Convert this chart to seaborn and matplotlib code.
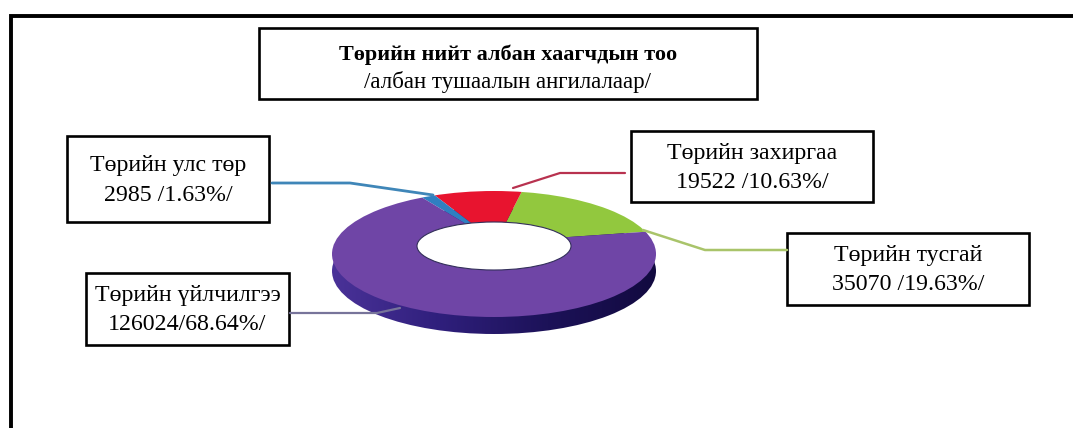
import matplotlib
matplotlib.use("Agg")
import matplotlib.pyplot as plt
from matplotlib.colors import LinearSegmentedColormap
from matplotlib.patches import Ellipse, Rectangle
from matplotlib.path import Path
from matplotlib.transforms import Affine2D
import numpy as np
import seaborn as sns

categories = ["Төрийн тусгай", "Төрийн захиргаа", "Төрийн улс төр", "Төрийн үйлчилгээ"]
values = [35070, 19522, 2985, 126024]
value_labels = ["35070 /19.63%/", "19522 /10.63%/", "2985 /1.63%/", "126024/68.64%/"]
colors = ["#92c83e", "#e8142f", "#2f7fc1", "#6f45a6"]
side_colors = ["#4a3298", "#2f1f7c", "#1c1258", "#120a40"]
title_main = "Төрийн нийт албан хаагчдын тоо"
title_sub = "/албан тушаалын ангилалаар/"

W, H = 1073, 428
sns.set_theme(style="white")
plt.rcParams["font.family"] = ["Liberation Serif", "DejaVu Serif"]
fig = plt.figure(figsize=(W / 100, H / 100), dpi=100, facecolor="white")

# Donut axes: one unit = 162 px across and 63 px down, origin at the slice apex
cx, cy, ux, uy = 496, 242, 162, 63
ex, ey = -2 / ux, -(254 - cy) / uy
depth = 17 / uy
pie = fig.add_axes([0, 0, 1, 1], zorder=1)

wedges, _ = pie.pie(values, colors=colors, startangle=10, counterclock=True, radius=2.2,
                    wedgeprops={"linewidth": 0, "edgecolor": "none"})
top_clip = Path.unit_circle().transformed(Affine2D().translate(ex, ey))
for w in wedges:
    w.set_clip_on(True)
    w.set_clip_path(top_clip, pie.transData)

# Side wall of the disc: a left-to-right shade under the top face
side_cmap = LinearSegmentedColormap.from_list("side", side_colors)
img = pie.imshow(np.linspace(0, 1, 256).reshape(1, -1), cmap=side_cmap, aspect="auto", zorder=0.5,
                 extent=(ex - 1, ex + 1, ey - depth - 1, ey + 1))
img.set_clip_path(Path.unit_circle().transformed(Affine2D().translate(ex, ey - depth)), pie.transData)

pie.add_patch(Ellipse((ex, -(246 - cy) / uy), 2 * 77 / ux, 2 * 24 / uy,
                      fc="white", ec="#33305a", lw=0.8, zorder=5))
pie.set_aspect("auto")
pie.set_xlim(-cx / ux, (W - cx) / ux)
pie.set_ylim(-(H - cy) / uy, cy / uy)
pie.axis("off")

# Annotation layer in pixels
ax = fig.add_axes([0, 0, 1, 1], zorder=2)
ax.set_xlim(0, W)
ax.set_ylim(H, 0)
ax.axis("off")
ax.patch.set_alpha(0)

ax.plot([10.5, 10.5, W], [H, 15.5, 15.5], color="black", lw=2.8, solid_joinstyle="miter")


def box(x0, y0, x1, y1):
    ax.add_patch(Rectangle((x0, y0), x1 - x0, y1 - y0, fc="white", ec="black", lw=1.9))


box(259, 28, 757, 99)
ax.text(508, 55, title_main, ha="center", va="center", fontsize=16, fontweight="bold", color="black")
ax.text(508, 82, title_sub, ha="center", va="center", fontsize=16.5, color="black")

fs = 17.2
boxes = [(787, 233, 1029, 305), (631, 131, 873, 202), (67, 136, 269, 222), (86, 273, 289, 345)]
for (x0, y0, x1, y1), c, v in zip(boxes, categories, value_labels):
    box(x0, y0, x1, y1)
    xm, ym = (x0 + x1) / 2, (y0 + y1) / 2
    ax.text(xm, ym - 13, c, ha="center", va="center", fontsize=fs, color="black")
    ax.text(xm, ym + 16, v, ha="center", va="center", fontsize=fs, color="black")

ax.plot([272, 350, 433], [183, 183, 195], color="#3f86b8", lw=2)
ax.plot([513, 560, 625], [188, 173, 173], color="#b8324f", lw=1.6)
ax.plot([643, 705, 787], [230, 250, 250], color="#a9c46a", lw=1.8)
ax.plot([290, 377, 400], [313, 313, 308], color="#77749a", lw=1.6)

fig.savefig("out.png", dpi=100)
